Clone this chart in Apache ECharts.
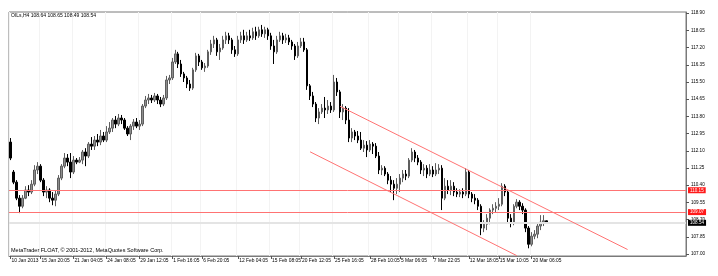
<!DOCTYPE html>
<html>
<head>
<meta charset="utf-8">
<script src="https://cdn.jsdelivr.net/npm/echarts@6.0.0/dist/echarts.min.js"></script>
<style>html,body{margin:0;padding:0;background:#fff}#c{width:718px;height:276px}</style>
</head>
<body>
<div id="c"></div>
<script>
const opens = [112.53,111.05,110.55,109.76,109.36,109.76,110.16,110.06,110.45,111.15,111.34,110.65,110.06,110.16,109.76,109.66,109.96,110.75,111.34,111.74,111.54,111.05,111.64,111.54,111.64,112.04,111.84,112.43,112.33,112.63,112.53,112.83,112.63,113.03,113.22,113.62,113.42,113.72,113.62,113.22,112.93,113.32,113.52,113.32,113.42,114.31,114.61,114.71,114.61,114.81,114.61,114.41,114.71,115.60,115.70,116.49,116.89,116.39,115.90,115.70,115.40,115.20,116.10,116.79,116.49,116.20,116.29,116.99,117.38,117.58,116.99,117.18,117.58,117.78,117.58,117.09,116.89,117.58,117.78,117.58,117.78,117.68,117.98,117.78,118.08,117.88,118.08,117.78,117.28,116.99,117.58,117.78,117.58,117.68,117.48,117.28,116.79,117.28,117.48,117.09,115.31,114.81,114.41,113.72,114.02,114.21,114.12,114.31,114.12,115.50,115.01,114.02,114.21,113.62,112.73,113.03,112.83,112.63,112.23,112.38,112.14,112.43,112.33,111.84,111.15,111.24,110.95,110.65,110.45,110.25,110.45,110.75,110.95,110.85,111.64,112.04,111.74,111.54,111.15,111.24,110.95,111.15,110.95,111.15,111.24,109.76,110.35,110.16,110.35,110.06,109.96,110.06,109.96,111.05,109.96,109.76,109.66,109.36,108.28,108.47,108.77,109.17,109.26,109.36,109.46,110.35,110.06,108.77,108.57,109.36,109.56,109.36,109.17,108.28,107.48,107.88,107.98,108.38,108.57,108.64];
const closes = [111.74,110.55,109.76,109.36,109.76,110.16,110.06,110.45,111.15,111.34,110.65,110.06,110.16,109.76,109.66,109.96,110.75,111.34,111.74,111.54,111.05,111.64,111.54,111.64,112.04,111.84,112.43,112.33,112.63,112.53,112.83,112.63,113.03,113.22,113.62,113.42,113.72,113.62,113.22,112.93,113.32,113.52,113.32,113.42,114.31,114.61,114.71,114.61,114.81,114.61,114.41,114.71,115.60,115.70,116.49,116.89,116.39,115.90,115.70,115.40,115.20,116.10,116.79,116.49,116.20,116.29,116.99,117.38,117.58,116.99,117.18,117.58,117.78,117.58,117.09,116.89,117.58,117.78,117.58,117.78,117.68,117.98,117.78,118.08,117.88,118.08,117.78,117.28,116.99,117.58,117.78,117.58,117.68,117.48,117.28,116.79,117.28,117.48,117.09,115.31,114.81,114.41,113.72,114.02,114.21,114.12,114.31,114.12,115.50,115.01,114.02,114.21,113.62,112.73,113.03,112.83,112.63,112.23,112.38,112.14,112.43,112.33,111.84,111.15,111.24,110.95,110.65,110.45,110.25,110.45,110.75,110.95,110.85,111.64,112.04,111.74,111.54,111.15,111.24,110.95,111.15,110.95,111.15,111.24,109.76,110.35,110.16,110.35,110.06,109.96,110.06,109.96,111.05,109.96,109.76,109.66,109.36,108.28,108.47,108.77,109.17,109.26,109.36,109.46,110.35,110.06,108.77,108.57,109.36,109.56,109.36,109.17,108.28,107.48,107.88,107.98,108.38,108.57,108.64,108.54];
const lows = [111.64,110.45,109.66,109.02,109.26,109.71,109.86,109.96,110.35,110.95,110.55,109.86,109.76,109.56,109.41,109.36,109.86,110.65,111.24,111.34,110.75,110.95,111.44,111.49,111.44,111.34,111.74,112.14,112.14,112.33,112.38,112.53,112.53,112.93,113.03,113.22,113.32,113.42,113.13,112.83,112.63,113.13,113.22,113.13,113.32,114.21,114.41,114.46,114.51,114.41,114.26,114.31,114.61,115.40,115.60,116.39,116.19,115.75,115.50,115.20,115.06,115.11,116.00,116.29,116.10,116.00,116.20,116.84,117.18,116.79,116.59,117.09,117.38,117.38,116.89,116.74,116.79,117.43,117.38,117.48,117.53,117.58,117.58,117.68,117.73,117.68,117.58,117.09,116.39,116.89,117.48,117.38,117.43,117.33,117.09,116.59,116.69,117.18,116.99,115.11,114.61,114.26,113.52,113.42,113.92,113.72,113.92,113.97,114.02,114.81,113.72,113.62,113.42,112.53,112.53,112.63,112.48,112.14,112.04,111.79,112.04,111.94,111.74,110.95,110.90,110.85,110.45,110.06,109.66,109.96,110.06,110.55,110.65,110.75,111.54,111.54,111.39,110.95,110.85,110.75,110.85,110.80,110.85,110.95,109.17,109.66,109.96,109.91,109.86,109.81,109.81,109.76,109.86,109.76,109.56,109.46,109.17,107.93,108.08,108.18,108.47,108.97,109.07,109.17,109.36,109.86,108.57,108.32,108.42,109.26,109.17,108.97,108.08,107.28,107.38,107.73,107.78,108.18,108.38,108.49];
const highs = [112.73,111.15,110.65,109.91,109.91,110.35,110.40,110.65,111.39,111.54,111.44,110.75,110.35,110.25,110.06,110.16,110.90,111.44,111.99,111.94,111.99,111.84,111.74,111.79,112.14,112.23,112.53,112.78,112.83,112.93,113.13,113.03,113.32,113.52,113.72,113.82,113.92,113.87,113.72,113.32,113.42,113.67,113.72,113.62,114.41,114.81,114.91,114.86,114.96,114.91,114.76,114.86,115.80,115.85,116.69,117.09,116.99,116.59,116.00,115.80,115.60,116.20,116.94,116.89,116.59,116.44,117.09,117.58,117.78,117.68,117.38,117.78,117.98,117.93,117.68,117.28,117.78,117.98,118.08,117.98,118.08,118.18,118.23,118.23,118.32,118.23,118.18,117.93,117.58,117.78,117.98,117.93,117.88,117.83,117.58,117.38,117.48,117.68,117.68,117.18,115.40,115.01,114.51,114.21,114.41,114.76,114.61,114.51,115.85,115.70,115.11,114.41,114.31,114.21,113.22,113.13,113.08,113.03,112.63,112.58,112.63,112.53,112.48,112.04,111.39,111.34,111.05,110.85,110.65,110.75,110.95,111.15,111.15,111.74,112.23,112.14,111.89,111.64,111.44,111.39,111.44,111.34,111.49,111.44,111.39,110.75,110.65,110.65,110.55,110.25,110.20,110.25,111.24,111.15,110.06,109.96,109.76,109.46,108.67,108.97,109.26,109.46,109.56,109.76,110.50,110.45,110.16,108.97,109.46,109.71,109.66,109.51,109.26,108.38,108.08,108.18,108.57,108.92,108.92,108.65];

const tickLabels = ["10 Jan 2013","15 Jan 20:05","21 Jan 04:05","24 Jan 08:05","29 Jan 12:05","1 Feb 16:05","6 Feb 20:05","12 Feb 04:05","15 Feb 08:05","20 Feb 12:05","25 Feb 16:05","28 Feb 10:05","5 Mar 06:05","7 Mar 22:05","12 Mar 18:05","15 Mar 10:05","20 Mar 06:05"];
const tickBars = [0,10,21,32,43,54,64,76,87,97,108,120,130,141,153,163,174];
const totalSlots = 226;
const priceTicks = [118.90,118.05,117.20,116.35,115.50,114.65,113.80,112.95,112.10,111.25,110.40,109.55,108.70,107.85,107.00];
const levelLines = [110.15, 109.07];
const bidLine = 108.54;
const markerPrice = 111.74;
const channelUpper = [[110, 114.30], [206, 107.22]];
const channelLower = [[100, 112.05], [169, 106.92]];
const headerText = "OILs,H4 108.64 108.65 108.49 108.54";
const footerText = "MetaTrader FLOAT, \u00a9 2001-2012, MetaQuotes Software Corp.";

const categories = [];
for (let i = 0; i < totalSlots; i++) {
  const k = tickBars.indexOf(i);
  categories.push(k >= 0 ? tickLabels[k] : 'b' + i);
}
const candles = opens.map((o, i) => [o, closes[i], lows[i], highs[i]]);

const FONT = 'Liberation Sans';
const RED_LINE = '#ff7373';
const labelStyle = (bg) => ({show: true, position: 'end', distance: 2, formatter: (p) => p.value.toFixed(2),
  color: '#fff', backgroundColor: bg, padding: [1, 2, 0, 2], fontSize: 4.6, fontFamily: FONT});
const chart = echarts.init(document.getElementById('c'), null, {renderer: 'canvas'});
chart.setOption({
  animation: false,
  backgroundColor: '#ffffff',
  title: [
    {text: headerText, left: 11, top: 13, padding: 0,
     textStyle: {fontSize: 5, fontWeight: 'normal', color: '#000', fontFamily: FONT}},
    {text: footerText, left: 11, top: 247, padding: 0,
     textStyle: {fontSize: 5.5, fontWeight: 'normal', color: '#000', fontFamily: FONT}}
  ],
  grid: {left: 9, right: 32, top: 12, bottom: 20, show: true, borderColor: '#7a7a7a', borderWidth: 1, backgroundColor: 'transparent'},
  xAxis: {
    type: 'category',
    data: categories,
    boundaryGap: true,
    axisLine: {show: true, lineStyle: {color: '#7a7a7a', width: 1}},
    axisTick: {show: true, alignWithLabel: true, length: 3, interval: (i) => tickBars.includes(i), lineStyle: {color: '#555'}},
    axisLabel: {
      show: true, interval: (i) => tickBars.includes(i), align: 'left', margin: 2, padding: [0,0,0,1],
      fontSize: 4.9, color: '#000', fontFamily: FONT
    },
    splitLine: {show: true, interval: (i) => tickBars.includes(i), lineStyle: {color: '#f3f3f3', width: 1}}
  },
  yAxis: {
    type: 'value',
    position: 'right',
    min: 106.90,
    max: 118.96,
    scale: true,
    axisLine: {show: true, lineStyle: {color: '#7a7a7a', width: 1}},
    axisTick: {show: true, length: 3, customValues: priceTicks, lineStyle: {color: '#555'}},
    axisLabel: {show: true, customValues: priceTicks, margin: 5, fontSize: 4.6, color: '#000', fontFamily: FONT,
      formatter: (v) => Number(v).toFixed(2)},
    splitLine: {show: false}
  },
  series: [{
    type: 'candlestick',
    data: candles,
    barWidth: 2,
    itemStyle: {color: '#8e8e8e', color0: '#000000', borderColor: '#5e5e5e', borderColor0: '#000000', borderWidth: 1},
    markLine: {
      silent: true,
      symbol: ['none', 'none'],
      animation: false,
      data: [
        {yAxis: bidLine, lineStyle: {color: '#e4e4e4', width: 2, type: 'solid'}, label: labelStyle('#000')},
        {yAxis: levelLines[0], lineStyle: {color: RED_LINE, width: 1, type: 'solid'}, label: labelStyle('#ff1a1a')},
        {yAxis: levelLines[1], lineStyle: {color: RED_LINE, width: 1, type: 'solid'}, label: labelStyle('#ff1a1a')},
        [{coord: channelUpper[0], lineStyle: {color: RED_LINE, width: 1, type: 'solid'}, label: {show: false}}, {coord: channelUpper[1]}],
        [{coord: channelLower[0], lineStyle: {color: RED_LINE, width: 1, type: 'solid'}, label: {show: false}}, {coord: channelLower[1]}]
      ]
    }
  }]
});
</script>
</body>
</html>
